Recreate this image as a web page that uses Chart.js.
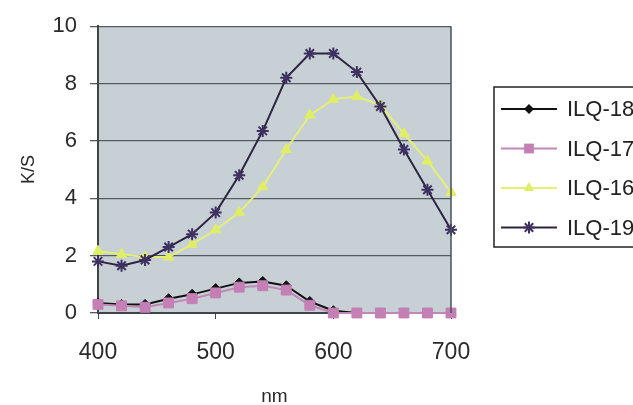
<!DOCTYPE html>
<html>
<head>
<meta charset="utf-8">
<script src="https://cdn.jsdelivr.net/npm/chart.js@4.4.0/dist/chart.umd.min.js"></script>
<style>
  html, body { margin: 0; padding: 0; background: #fff; overflow: hidden; }
  #wrap { width: 633px; height: 405px; }
</style>
</head>
<body>
<div id="wrap"><canvas id="chart" width="633" height="405"></canvas></div>
<script>
const wavelengths = [400, 420, 440, 460, 480, 500, 520, 540, 560, 580, 600, 620, 640, 660, 680, 700];
const ilq18 = [0.35, 0.3, 0.3, 0.5, 0.65, 0.85, 1.05, 1.1, 0.95, 0.4, 0.08, 0, 0, 0, 0, 0];
const ilq17 = [0.3, 0.25, 0.2, 0.35, 0.5, 0.7, 0.9, 0.95, 0.8, 0.27, 0, 0, 0, 0, 0, 0];
const ilq16 = [2.15, 2.05, 1.95, 1.95, 2.4, 2.9, 3.5, 4.4, 5.7, 6.9, 7.45, 7.55, 7.25, 6.25, 5.3, 4.2];
const ilq19 = [1.8, 1.65, 1.85, 2.3, 2.75, 3.5, 4.8, 6.35, 8.2, 9.05, 9.05, 8.4, 7.2, 5.7, 4.3, 2.9];
const xTicks = [400, 500, 600, 700];
const yTicks = [0, 2, 4, 6, 8, 10];

function points(values) {
    return wavelengths.map((x, i) => ({ x: x, y: values[i] }));
}

const series = [
    { label: "ILQ-18", data: ilq18, line: "#111111", fill: "#111111", style: "rectRot", radius: 5, order: 4 },
    { label: "ILQ-17", data: ilq17, line: "#c088b6", fill: "#c47fb4", style: "rect", radius: 7, order: 3 },
    { label: "ILQ-16", data: ilq16, line: "#e4ef78", fill: "#e0ee66", style: "triangle", radius: 6, order: 2 },
    { label: "ILQ-19", data: ilq19, line: "#2e2442", fill: "#3e3060", style: "star", radius: 6, order: 1 }
];

// plot background and right border
const plotFrame = {
    id: "plotFrame",
    beforeDraw(chart) {
        const a = chart.chartArea;
        const ctx = chart.ctx;
        ctx.save();
        ctx.fillStyle = "#c7d1d5";
        ctx.fillRect(a.left, a.top, a.right - a.left, a.bottom - a.top);
        ctx.restore();
    },
    afterDatasetsDraw(chart) {
        const a = chart.chartArea;
        const ctx = chart.ctx;
        ctx.save();
        ctx.strokeStyle = "#4a5257";
        ctx.lineWidth = 1.5;
        ctx.beginPath();
        ctx.moveTo(a.right, a.top);
        ctx.lineTo(a.right, a.bottom);
        ctx.stroke();
        ctx.restore();
    }
};

function drawMarker(ctx, style, x, y, r, color) {
    ctx.fillStyle = color;
    ctx.strokeStyle = color;
    ctx.lineWidth = 2;
    ctx.beginPath();
    if (style === "rectRot") {
        ctx.moveTo(x, y - r); ctx.lineTo(x + r, y); ctx.lineTo(x, y + r); ctx.lineTo(x - r, y);
        ctx.closePath(); ctx.fill();
    } else if (style === "rect") {
        const s = r * 0.7;
        ctx.rect(x - s, y - s, 2 * s, 2 * s); ctx.fill();
    } else if (style === "triangle") {
        ctx.moveTo(x, y - r); ctx.lineTo(x + r * 0.87, y + r * 0.5); ctx.lineTo(x - r * 0.87, y + r * 0.5);
        ctx.closePath(); ctx.fill();
    } else {
        ctx.moveTo(x - r, y); ctx.lineTo(x + r, y);
        ctx.moveTo(x, y - r); ctx.lineTo(x, y + r);
        ctx.moveTo(x - r * 0.7, y - r * 0.7); ctx.lineTo(x + r * 0.7, y + r * 0.7);
        ctx.moveTo(x - r * 0.7, y + r * 0.7); ctx.lineTo(x + r * 0.7, y - r * 0.7);
        ctx.stroke();
    }
}

// boxed legend at the right, cut by the page edge like the scan
const boxLegend = {
    id: "boxLegend",
    afterDraw(chart) {
        const ctx = chart.ctx;
        const left = 494, top = 87, height = 160, rowGap = 39.5, firstRow = 109;
        ctx.save();
        ctx.fillStyle = "#ffffff";
        ctx.fillRect(left, top, 200, height);
        ctx.strokeStyle = "#222222";
        ctx.lineWidth = 1.5;
        ctx.strokeRect(left, top, 200, height);
        chart.data.datasets.forEach((ds, i) => {
            const s = series[i];
            const y = firstRow + i * rowGap;
            ctx.strokeStyle = s.line;
            ctx.lineWidth = 2;
            ctx.beginPath();
            ctx.moveTo(501, y);
            ctx.lineTo(557, y);
            ctx.stroke();
            drawMarker(ctx, s.style, 529, y, s.radius, s.fill);
            ctx.fillStyle = "#222222";
            ctx.font = "22px 'Liberation Sans', Arial, sans-serif";
            ctx.textBaseline = "middle";
            ctx.textAlign = "left";
            ctx.fillText(ds.label, 567, y + 1);
        });
        ctx.restore();
    }
};

new Chart(document.getElementById("chart"), {
    type: "line",
    data: {
        datasets: series.map(s => ({
            label: s.label,
            data: points(s.data),
            borderColor: s.line,
            backgroundColor: s.fill,
            pointBackgroundColor: s.fill,
            pointBorderColor: s.fill,
            pointStyle: s.style,
            pointRadius: s.radius,
            pointBorderWidth: s.style === "star" ? 2 : 1,
            borderWidth: 2,
            tension: 0,
            fill: false,
            clip: false,
            order: s.order
        }))
    },
    options: {
        responsive: false,
        animation: false,
        events: [],
        layout: { padding: { top: 17, right: 182, left: 0, bottom: 0 } },
        plugins: {
            legend: { display: false },
            tooltip: { enabled: false }
        },
        scales: {
            x: {
                type: "linear",
                min: 400,
                max: 700,
                afterBuildTicks: scale => { scale.ticks = xTicks.map(v => ({ value: v })); },
                afterFit: scale => { scale.height = 92; },
                grid: { drawOnChartArea: false, tickLength: 6, color: "#444", lineWidth: 1 },
                border: { color: "#3e4448", width: 2 },
                ticks: {
                    color: "#2a2a2a",
                    padding: 20,
                    maxRotation: 0,
                    font: { family: "'Liberation Sans', Arial, sans-serif", size: 23 }
                },
                title: {
                    display: true,
                    text: "nm",
                    color: "#2a2a2a",
                    padding: { top: 0, bottom: -1 },
                    font: { family: "'Liberation Sans', Arial, sans-serif", size: 19, lineHeight: 1 }
                }
            },
            y: {
                min: 0,
                max: 10,
                afterBuildTicks: scale => { scale.ticks = yTicks.map(v => ({ value: v })); },
                afterFit: scale => { scale.width = 98; },
                grid: { color: "#545b60", lineWidth: 1.3, tickLength: 8 },
                border: { color: "#3e4448", width: 2 },
                ticks: {
                    color: "#2a2a2a",
                    padding: 13,
                    font: { family: "'Liberation Sans', Arial, sans-serif", size: 22 }
                },
                title: {
                    display: true,
                    text: "K/S",
                    color: "#2a2a2a",
                    padding: { top: 18, bottom: 0 },
                    font: { family: "'Liberation Sans', Arial, sans-serif", size: 18 }
                }
            }
        }
    },
    plugins: [plotFrame, boxLegend]
});
</script>
</body>
</html>
